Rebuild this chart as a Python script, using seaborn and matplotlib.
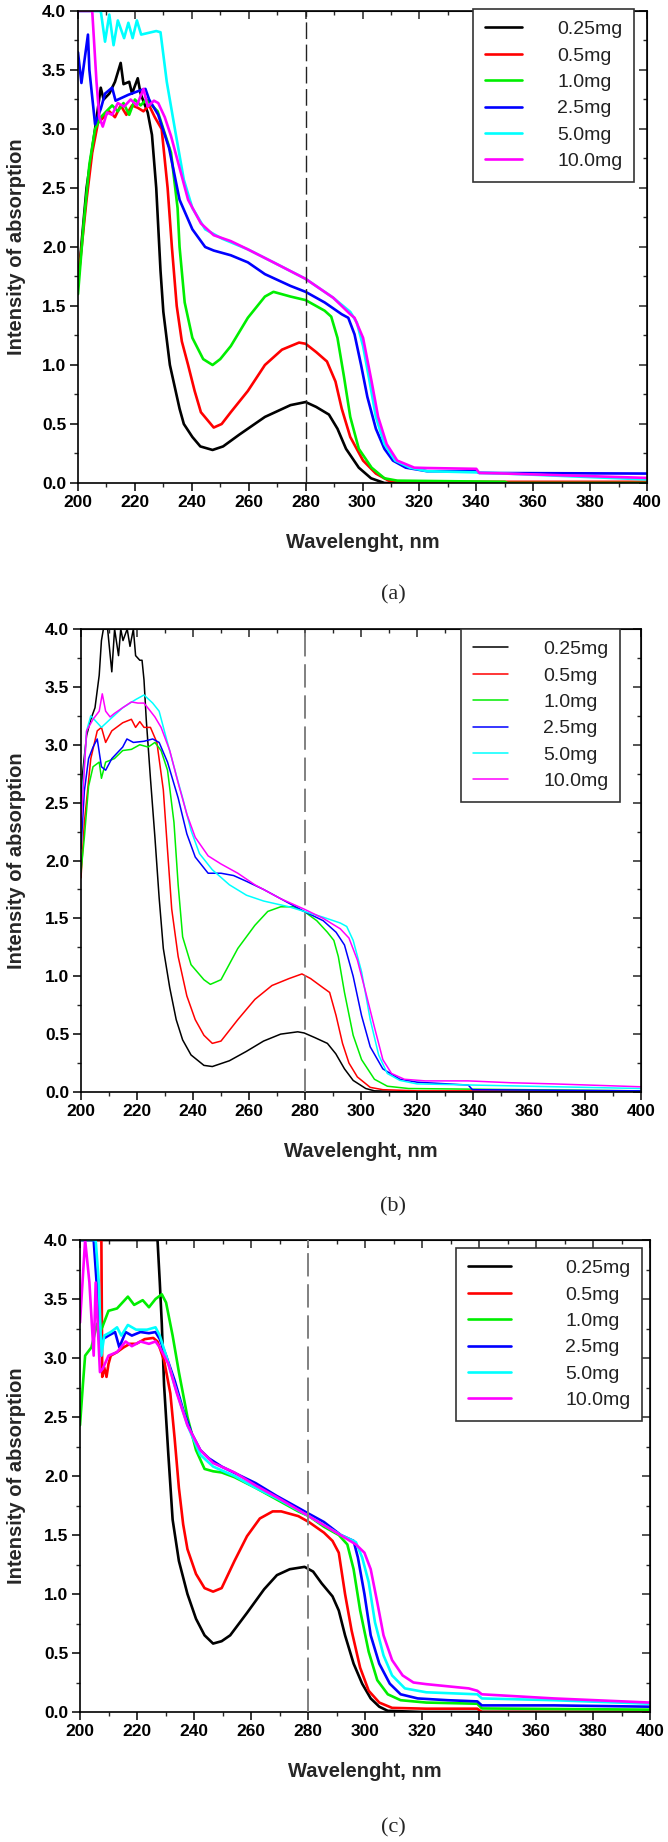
import matplotlib
matplotlib.use("Agg")
import matplotlib.pyplot as plt
from matplotlib.ticker import MultipleLocator
import seaborn as sns

# legend entries and line colours (same in all three panels)
labels = ["0.25mg", "0.5mg", "1.0mg", "2.5mg", "5.0mg", "10.0mg"]
colors = ["#000000", "#ff0000", "#00ee00", "#0000ff", "#00ffff", "#ff00ff"]

# ---------------- panel (a) ----------------
a_wl_025 = [200, 203, 206, 208, 209, 211, 213, 215, 216, 218, 219, 221, 222, 224.5, 226, 227.5, 229, 230,
            232.3, 235.7, 237.2, 240.2, 243, 247.3, 251, 256.7, 265.7, 274.7, 280, 283.7, 288.2, 291.2,
            294.2, 298.7, 303, 307.7, 320, 400]
a_ab_025 = [1.7, 2.5, 3.0, 3.35, 3.25, 3.3, 3.4, 3.56, 3.38, 3.4, 3.3, 3.43, 3.3, 3.14, 2.95, 2.5, 1.8, 1.45,
            1.0, 0.63, 0.5, 0.39, 0.31, 0.28, 0.31, 0.41, 0.56, 0.66, 0.686, 0.645, 0.58, 0.46,
            0.29, 0.13, 0.04, 0.0, 0.0, 0.0]

a_wl_05 = [200, 203, 205, 207, 209, 211, 213, 215, 217, 219, 221, 223, 225, 227, 229.4, 231.5, 233, 234.7,
           236.5, 238.7, 241, 243.2, 247.7, 250.5, 253.7, 259.7, 265.7, 271.7, 277.7, 280, 283.7, 287.5,
           290.5, 292.7, 295.7, 300.2, 304.7, 309.2, 315, 400]
a_ab_05 = [1.7, 2.4, 2.8, 3.05, 3.1, 3.15, 3.1, 3.2, 3.12, 3.2, 3.18, 3.15, 3.2, 3.1, 3.0, 2.5, 2.0, 1.5,
           1.2, 1.0, 0.78, 0.6, 0.47, 0.5, 0.6, 0.78, 1.0, 1.13, 1.19, 1.18, 1.11, 1.03,
           0.86, 0.63, 0.39, 0.19, 0.08, 0.02, 0.01, 0.01]

a_wl_10 = [200, 202, 204, 206, 208, 210, 212, 214, 216, 218, 220, 222, 224, 226, 228, 230, 232.7, 235,
           235.7, 237.5, 240.2, 244, 247.3, 250, 253.7, 259.7, 265.7, 268.7, 274.7, 280, 286.7, 289,
           291.2, 293.5, 295.7, 298.7, 303.2, 307.7, 312.2, 350, 351, 400]
a_ab_10 = [1.6, 2.2, 2.7, 3.0, 3.1, 3.15, 3.2, 3.15, 3.22, 3.12, 3.25, 3.2, 3.25, 3.2, 3.15, 3.0, 2.8, 2.33,
           2.0, 1.53, 1.23, 1.05, 1.0, 1.05, 1.16, 1.40, 1.58, 1.62, 1.58, 1.55, 1.46, 1.41,
           1.23, 0.9, 0.56, 0.29, 0.13, 0.04, 0.02, 0.01, 0.0, 0.0]

a_wl_25 = [200, 201.2, 203.5, 204, 206, 208, 209.5, 212, 213.2, 217.7, 222.2, 223.7, 225, 228.2, 232, 235.7,
           240.2, 244.7, 247.7, 253.7, 259.7, 265.7, 274.7, 280, 286.7, 292.7, 295, 297.2, 299.5, 301.7,
           304.7, 307.7, 310.7, 315.2, 322.7, 340, 341, 400]
a_ab_25 = [3.65, 3.39, 3.8, 3.5, 3.04, 3.17, 3.3, 3.35, 3.24, 3.29, 3.33, 3.34, 3.25, 3.12, 2.84, 2.4,
           2.15, 2.0, 1.97, 1.93, 1.87, 1.77, 1.67, 1.62, 1.53, 1.43, 1.40, 1.26, 1.0, 0.73,
           0.46, 0.29, 0.19, 0.13, 0.1, 0.1, 0.085, 0.08]

a_wl_50 = [200, 208, 209.5, 211, 212.5, 214, 216.2, 217.7, 219.2, 220.7, 222.2, 227.5, 229, 231.2, 234.2,
           237.2, 240.2, 244.7, 250.7, 259.7, 268.7, 280, 289.7, 295.7, 298, 300.2, 302.5, 304.7, 307.7,
           311.5, 316.7, 322.7, 340, 400]
a_ab_50 = [4.0, 4.0, 3.74, 3.97, 3.71, 3.92, 3.77, 3.9, 3.77, 3.92, 3.8, 3.83, 3.82, 3.4, 2.98,
           2.57, 2.33, 2.15, 2.07, 1.98, 1.87, 1.73, 1.57, 1.45, 1.36, 1.16, 0.86, 0.56, 0.33,
           0.19, 0.13, 0.1, 0.09, 0.03]

a_wl_100 = [200, 205, 206.5, 207.5, 208.7, 210.2, 212, 214, 216.2, 218.5, 220.7, 223, 224.5, 226.7, 228.2,
            230.5, 232.7, 235.7, 238.7, 243.2, 247.7, 253.7, 259.7, 268.7, 280, 289.7, 295.7, 297.2,
            300.2, 303.2, 305.5, 308.5, 312.2, 318.2, 322.7, 340, 341, 400]
a_ab_100 = [4.0, 4.0, 3.4, 3.1, 3.02, 3.14, 3.12, 3.22, 3.19, 3.25, 3.2, 3.34, 3.19, 3.24, 3.22,
            3.1, 2.94, 2.67, 2.4, 2.2, 2.1, 2.05, 1.98, 1.87, 1.73, 1.57, 1.43, 1.40,
            1.23, 0.86, 0.56, 0.33, 0.19, 0.13, 0.127, 0.12, 0.087, 0.043]

# ---------------- panel (b) ----------------
b_wl_025 = [200, 200.5, 202, 203.5, 205, 206.5, 207.3, 208, 209.5, 211, 212, 213.4, 214.2, 215, 216.5,
            217.5, 218.7, 219.5, 221, 221.8, 222.5, 223.3, 224.8, 226.4, 227.9, 229.4, 231.7, 234, 236.3,
            239.3, 243.9, 246.9, 253, 259, 265.2, 271.3, 277.4, 279.7, 283.5, 288, 291, 294.1, 297.2,
            301.7, 304.8, 320, 400]
b_ab_025 = [2.5, 2.74, 3.08, 3.22, 3.32, 3.6, 3.9, 4.0, 4.0, 3.63, 4.0, 3.77, 4.0, 3.9, 4.0,
            3.85, 4.0, 3.77, 3.73, 3.73, 3.56, 3.22, 2.71, 2.2, 1.68, 1.24, 0.9, 0.625, 0.45,
            0.32, 0.23, 0.22, 0.27, 0.35, 0.44, 0.5, 0.52, 0.51, 0.47, 0.42, 0.33, 0.2, 0.1,
            0.03, 0.01, 0.0, 0.0]

b_wl_05 = [200, 201.2, 203.5, 205.8, 207.3, 208.8, 211, 214.9, 218, 219.5, 221, 222.5, 224.8, 227.1, 229.4,
           230.9, 232.4, 234.7, 237.8, 240.8, 243.9, 246.9, 250, 256, 262.1, 268.2, 274.3, 278.9, 282,
           286.5, 288.8, 291.1, 293.4, 295.7, 298.7, 303.3, 307.8, 320, 400]
b_ab_05 = [1.85, 2.33, 2.88, 3.12, 3.15, 3.02, 3.12, 3.19, 3.22, 3.15, 3.2, 3.15, 3.15, 3.02, 2.61,
           2.09, 1.58, 1.17, 0.83, 0.625, 0.49, 0.42, 0.44, 0.625, 0.80, 0.92, 0.98, 1.02, 0.98,
           0.9, 0.86, 0.66, 0.42, 0.25, 0.13, 0.04, 0.02, 0.01, 0.01]

b_wl_10 = [200, 201.2, 202.7, 204.3, 206.5, 207.3, 208.8, 211.9, 214.9, 218, 221, 224, 226.4, 228.6, 230.9,
           233.2, 234.7, 236.3, 239.3, 243.9, 246.2, 250, 256, 262.1, 266.7, 271.3, 275.9, 279.7, 284.2,
           288, 290.3, 291.9, 294.1, 297.2, 300.2, 304.8, 309.4, 317, 400]
b_ab_10 = [1.9, 2.2, 2.64, 2.81, 2.85, 2.71, 2.85, 2.88, 2.95, 2.96, 3.0, 2.98, 3.02, 2.95, 2.78,
           2.33, 1.79, 1.34, 1.1, 0.97, 0.93, 0.97, 1.24, 1.44, 1.56, 1.6, 1.6, 1.56, 1.48,
           1.38, 1.31, 1.17, 0.86, 0.49, 0.28, 0.11, 0.05, 0.03, 0.01]

b_wl_25 = [200, 201.2, 202.7, 204.3, 205.8, 207.3, 208.8, 211, 214.9, 216.4, 218.7, 222.5, 225.6, 227.9,
           230.9, 234.7, 237.8, 240.8, 245.4, 250, 254.5, 259.1, 265.2, 271.3, 279.7, 286.5, 291.1, 294.1,
           297.2, 300.2, 303.3, 307.8, 313.9, 320, 338.3, 339.8, 400]
b_ab_25 = [2.1, 2.6, 2.88, 2.98, 3.05, 2.81, 2.78, 2.88, 2.98, 3.05, 3.02, 3.03, 3.05, 3.02,
           2.85, 2.54, 2.23, 2.03, 1.89, 1.89, 1.87, 1.82, 1.75, 1.67, 1.56, 1.48, 1.38, 1.27,
           1.0, 0.66, 0.39, 0.2, 0.11, 0.085, 0.06, 0.02, 0.01]

b_wl_50 = [200, 202, 203.5, 205.8, 207.3, 210.4, 214.9, 219.5, 222.5, 225.6, 227.9, 230.2, 233.2, 236.3,
           239.3, 242.3, 246.9, 253, 259.1, 265.2, 274.3, 279.7, 286.5, 292.6, 294.9, 297.2, 300.2, 303.3,
           306.3, 309.4, 313.9, 320, 400]
b_ab_50 = [2.4, 3.12, 3.25, 3.19, 3.15, 3.22, 3.32, 3.39, 3.43, 3.36, 3.29, 3.08, 2.81, 2.54,
           2.26, 2.06, 1.92, 1.79, 1.70, 1.65, 1.6, 1.56, 1.51, 1.46, 1.43, 1.31, 1.04, 0.625,
           0.32, 0.16, 0.1, 0.07, 0.03]

b_wl_100 = [200, 202, 204.3, 206.5, 207.6, 208.8, 210.4, 211.9, 214.9, 218, 220.3, 222.5, 224.8, 226.4,
            228.6, 231.7, 234.7, 237.8, 240.8, 245.4, 250, 256, 262.1, 271.3, 279.7, 286.5, 292.6, 295.7,
            298.7, 301.7, 304.8, 307.8, 310.9, 315.5, 323, 338.3, 353.5, 368.8, 400]
b_ab_100 = [2.3, 3.12, 3.22, 3.29, 3.44, 3.29, 3.24, 3.27, 3.32, 3.37, 3.36, 3.36, 3.29, 3.24,
            3.15, 2.95, 2.67, 2.4, 2.2, 2.04, 1.97, 1.89, 1.79, 1.67, 1.58, 1.5, 1.41, 1.33,
            1.14, 0.86, 0.56, 0.28, 0.16, 0.11, 0.096, 0.096, 0.08, 0.07, 0.045]

# ---------------- panel (c) ----------------
c_wl_025 = [200, 227.2, 228, 228.7, 229.5, 231, 232.5, 234.7, 237.7, 240.7, 243.7, 246.7, 249.7, 252.7,
            258.6, 264.6, 269.1, 273.6, 278.8, 281.8, 284.8, 288.6, 290.8, 293, 296, 299, 302, 305, 308,
            320, 400]
c_ab_025 = [4.0, 4.0, 3.64, 3.29, 2.77, 2.18, 1.63, 1.28, 1.0, 0.79, 0.65, 0.58, 0.6, 0.65,
            0.84, 1.04, 1.16, 1.21, 1.23, 1.19, 1.09, 0.98, 0.86, 0.65, 0.41, 0.24, 0.115, 0.045, 0.01,
            0.0, 0.0]

c_wl_05 = [200, 207.5, 207.8, 208.5, 209.3, 210, 210.8, 213, 215.3, 217.5, 219.7, 222.7, 225.7, 227.2,
           229.5, 231.7, 233.2, 234.7, 236.2, 237.7, 240.7, 243.7, 246.7, 249.7, 254.2, 258.6, 263.1,
           267.6, 270.6, 276.6, 280.3, 285.6, 288.6, 290.8, 293, 295.3, 298.3, 301.3, 305, 309.5, 321.5,
           339.4, 341, 400]
c_ab_05 = [4.0, 4.0, 2.84, 2.92, 2.84, 2.95, 3.02, 3.05, 3.09, 3.12, 3.12, 3.16, 3.17, 3.14,
           2.98, 2.7, 2.32, 1.9, 1.59, 1.38, 1.17, 1.05, 1.02, 1.05, 1.28, 1.49, 1.64,
           1.7, 1.7, 1.66, 1.61, 1.52, 1.45, 1.35, 1.0, 0.69, 0.375, 0.18, 0.08, 0.035, 0.028,
           0.028, 0.0, 0.0]

c_wl_10 = [200, 201, 201.8, 204, 206, 207, 207.8, 210, 213, 216.8, 219, 222, 224.2, 226.5, 228.7, 230.2,
           232.5, 234.7, 237.7, 240.7, 243.7, 246.7, 249.7, 254.2, 261.6, 269.1, 276.6, 280.3, 285.6,
           290.8, 293.8, 296, 298.3, 301.3, 304.3, 308, 312.5, 321.5, 339.4, 341, 400]
c_ab_10 = [2.43, 2.77, 3.02, 3.09, 3.29, 3.22, 3.26, 3.4, 3.42, 3.52, 3.45, 3.49, 3.43, 3.5, 3.54, 3.47,
           3.19, 2.88, 2.5, 2.22, 2.06, 2.04, 2.03, 1.99, 1.9, 1.8, 1.7, 1.66, 1.57,
           1.5, 1.42, 1.21, 0.86, 0.51, 0.27, 0.15, 0.1, 0.08, 0.07, 0.03, 0.02]

c_wl_25 = [200, 204.8, 206.3, 207, 208, 210, 212.3, 213.8, 216, 218.2, 221.2, 224.2, 226.5, 228, 230.2,
           233.2, 236.2, 239.2, 242.2, 245.2, 249.7, 255.6, 261.6, 269.1, 276.6, 280.3, 285.6, 291.5, 296,
           297.5, 299.8, 302, 305, 308.7, 312.5, 318.5, 329, 339.4, 341, 366.3, 400]
c_ab_25 = [4.0, 4.0, 3.47, 3.02, 3.16, 3.19, 3.22, 3.09, 3.22, 3.19, 3.22, 3.21, 3.22, 3.16, 3.02,
           2.81, 2.56, 2.36, 2.22, 2.15, 2.08, 2.01, 1.94, 1.83, 1.73, 1.68, 1.61, 1.5, 1.45,
           1.31, 1.0, 0.65, 0.41, 0.24, 0.15, 0.115, 0.1, 0.09, 0.056, 0.056, 0.045]

c_wl_50 = [200, 205.5, 206.6, 207.5, 208.5, 210.8, 213, 214.5, 216.8, 219.7, 223.5, 226.5, 228, 230.2,
           233.2, 237.7, 242.2, 246.7, 254.2, 261.6, 269.1, 280.3, 291.5, 296.8, 299, 301.3, 303.5, 306.5,
           309.5, 314, 321.5, 339.4, 341, 366.3, 400]
c_ab_50 = [4.0, 4.0, 3.64, 3.02, 3.19, 3.22, 3.26, 3.19, 3.28, 3.24, 3.24, 3.26, 3.19, 3.02,
           2.77, 2.43, 2.18, 2.08, 2.0, 1.9, 1.81, 1.66, 1.5, 1.44, 1.31, 1.1, 0.76, 0.48,
           0.31, 0.2, 0.167, 0.15, 0.115, 0.1, 0.07]

c_wl_100 = [200, 201.8, 203.3, 204.8, 205.5, 207, 208, 210, 213, 216, 218.2, 221.2, 224.2, 226.5, 228,
            231, 234, 237.7, 242.2, 246.7, 254.2, 261.6, 269.1, 280.3, 290, 296.8, 299.8, 302, 304.3,
            306.5, 309.5, 313.2, 317, 321.5, 336.4, 339.4, 341, 366.3, 400]
c_ab_100 = [3.3, 4.0, 3.64, 3.02, 3.64, 2.88, 2.91, 3.02, 3.05, 3.14, 3.1, 3.14, 3.12, 3.14, 3.09,
            2.95, 2.7, 2.43, 2.22, 2.11, 2.03, 1.92, 1.82, 1.66, 1.52, 1.42, 1.35, 1.21, 0.93,
            0.65, 0.44, 0.31, 0.25, 0.236, 0.2, 0.18, 0.15, 0.115, 0.08]

panel_a = [(a_wl_025, a_ab_025), (a_wl_05, a_ab_05), (a_wl_10, a_ab_10),
           (a_wl_25, a_ab_25), (a_wl_50, a_ab_50), (a_wl_100, a_ab_100)]
panel_b = [(b_wl_025, b_ab_025), (b_wl_05, b_ab_05), (b_wl_10, b_ab_10),
           (b_wl_25, b_ab_25), (b_wl_50, b_ab_50), (b_wl_100, b_ab_100)]
panel_c = [(c_wl_025, c_ab_025), (c_wl_05, c_ab_05), (c_wl_10, c_ab_10),
           (c_wl_25, c_ab_25), (c_wl_50, c_ab_50), (c_wl_100, c_ab_100)]

sns.set_style("ticks")
plt.rcParams["font.family"] = ["Liberation Sans", "DejaVu Sans"]

W, H = 668, 1842
fig = plt.figure(figsize=(W / 100, H / 100), dpi=100)


def add_panel(series, box, lw, dash_color, dash_lw, leg_anchor, leg_hlen, leg_tpad, tag, tag_y):
    left, right, top, bottom = box
    ax = fig.add_axes([left / W, 1 - bottom / H, (right - left) / W, (bottom - top) / H])
    for (wl, ab), lab, col in zip(series, labels, colors):
        sns.lineplot(x=wl, y=ab, color=col, label=lab, linewidth=lw, ax=ax,
                     estimator=None, sort=False)
    ax.axvline(280, color=dash_color, lw=dash_lw, ls=(0, (12, 4)), zorder=5)

    ax.set_xlim(200, 400)
    ax.set_ylim(0, 4)
    ax.xaxis.set_major_locator(MultipleLocator(20))
    ax.xaxis.set_minor_locator(MultipleLocator(10))
    ax.yaxis.set_major_locator(MultipleLocator(0.5))
    ax.yaxis.set_minor_locator(MultipleLocator(0.25))
    ax.yaxis.set_major_formatter(plt.FormatStrFormatter("%.1f"))
    ax.tick_params(which="major", direction="out", length=5.5, width=1.1, pad=3,
                   labelsize=12.5, colors="black")
    ax.tick_params(which="minor", direction="out", length=2.8, width=1.0)
    for t in ax.get_xticklabels() + ax.get_yticklabels():
        t.set_fontweight("bold")
    for sp in ax.spines.values():
        sp.set_visible(True)
        sp.set_linewidth(1.2)
        sp.set_color("black")

    # mirrored inward ticks on top and right
    top_ax = ax.secondary_xaxis("top")
    top_ax.xaxis.set_major_locator(MultipleLocator(20))
    top_ax.xaxis.set_minor_locator(MultipleLocator(10))
    top_ax.tick_params(which="major", direction="in", length=5.5, width=1.1, labeltop=False)
    top_ax.tick_params(which="minor", direction="in", length=2.8, width=1.0)
    right_ax = ax.secondary_yaxis("right")
    right_ax.yaxis.set_major_locator(MultipleLocator(0.5))
    right_ax.yaxis.set_minor_locator(MultipleLocator(0.25))
    right_ax.tick_params(which="major", direction="in", length=5.5, width=1.1, labelright=False)
    right_ax.tick_params(which="minor", direction="in", length=2.8, width=1.0)

    ax.set_xlabel("Wavelenght, nm", fontsize=14.5, fontweight="bold")
    ax.set_ylabel("Intensity of absorption", fontsize=14.5, fontweight="bold")
    ax.xaxis.set_label_coords(0.5, -59 / (bottom - top))
    ax.xaxis.label.set_va("center")
    ax.yaxis.set_label_coords((17 - left) / (right - left), 0.5)
    ax.yaxis.label.set_va("center")

    leg = ax.legend(loc="upper right", bbox_to_anchor=leg_anchor, borderaxespad=0,
                    frameon=True, fancybox=False, framealpha=1, edgecolor="#333333",
                    prop={"family": "Liberation Sans", "size": 14},
                    borderpad=0.6, handlelength=leg_hlen, handletextpad=leg_tpad,
                    labelspacing=0.45)
    leg.get_frame().set_linewidth(1.2)
    for txt in leg.get_texts():
        txt.set_color("#222222")

    fig.text(393 / W, 1 - tag_y / H, tag, ha="center", va="center",
             family="Liberation Serif", fontsize=16)
    return ax


add_panel(panel_a, (78, 647, 11, 483), 1.9, "#222222", 1.0,
          ((634 - 78) / 569, (483 - 9) / 472), 1.9, 1.8, "(a)", 595)
add_panel(panel_b, (81, 641, 629, 1092), 1.1, "#808080", 1.4,
          ((620 - 81) / 560, 1.0), 1.8, 1.8, "(b)", 1207)
add_panel(panel_c, (80, 650, 1240, 1712), 1.9, "#808080", 1.4,
          ((642 - 80) / 570, (1712 - 1248) / 472), 2.2, 2.8, "(c)", 1828)

fig.savefig("out.png", dpi=100)
